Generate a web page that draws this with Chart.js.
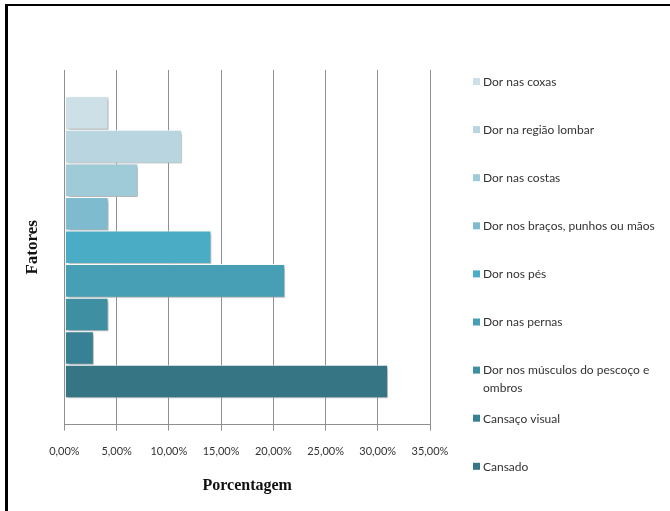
<!DOCTYPE html>
<html>
<head>
<meta charset="utf-8">
<script src="https://cdn.jsdelivr.net/npm/chart.js@4.4.1/dist/chart.umd.min.js"></script>
<style>
  body { margin: 0; background: #fff; }
  #wrap { position: relative; width: 670px; height: 511px; overflow: hidden; }
  #frame { position: absolute; left: 5px; top: 4px; width: 700px; height: 600px;
           border-top: 2px solid #000; border-left: 3px solid #000; pointer-events: none; }
</style>
</head>
<body>
<div id="wrap">
  <canvas id="chart1" width="670" height="511"></canvas>
  <div id="frame"></div>
</div>
<script>
// fatores, de cima para baixo
const fatores = ['Dor nas coxas', 'Dor na região lombar', 'Dor nas costas',
  'Dor nos braços, punhos ou mãos', 'Dor nos pés', 'Dor nas pernas',
  'Dor nos músculos do pescoço e ombros', 'Cansaço visual', 'Cansado'];
const porcentagens = [4.23, 11.27, 7.04, 4.23, 14.08, 21.13, 4.23, 2.82, 30.99];
const cores = ['#cde0e7', '#b9d6e0', '#9fcad8', '#7fbbce', '#4badc5',
  '#479fb5', '#3f8fa3', '#388194', '#357584'];
const xMax = 35;
const xStep = 5;

const gridcolor = '#8f8f8f';
const txtcolor = '#333333';

const datasets = fatores.map((f, i) => ({
  label: f,
  data: [porcentagens[i]],
  backgroundColor: cores[i],
  borderColor: 'rgba(255,255,255,0.9)',
  borderWidth: 1,
  borderSkipped: false,
  categoryPercentage: 0.852,
  barPercentage: 1
}));

// sombra das barras (efeito do Excel)
const barShadow = {
  id: 'barShadow',
  beforeDatasetsDraw(chart) {
    const c = chart.ctx;
    c.save();
    c.shadowColor = 'rgba(0,0,0,0.35)';
    c.shadowBlur = 3;
    c.shadowOffsetX = 2;
    c.shadowOffsetY = 2;
  },
  afterDatasetsDraw(chart) {
    chart.ctx.restore();
  }
};

// legenda à direita, espaçamento fixo como no original
const sideLegend = {
  id: 'sideLegend',
  afterDraw(chart) {
    const c = chart.ctx;
    const x0 = 473, y0 = 82, gap = 48.1, maxW = 186;
    c.save();
    c.font = '12px Lato';
    c.textBaseline = 'middle';
    chart.data.datasets.forEach((ds, i) => {
      const y = y0 + i * gap;
      c.fillStyle = ds.backgroundColor;
      c.fillRect(x0, y - 4, 7, 7);
      c.fillStyle = txtcolor;
      // quebra de linha simples
      const words = ds.label.split(' ');
      let line = '', lines = [];
      words.forEach(w => {
        const test = line ? line + ' ' + w : w;
        if (c.measureText(test).width > maxW && line) { lines.push(line); line = w; }
        else line = test;
      });
      lines.push(line);
      lines.forEach((l, k) => c.fillText(l, x0 + 10, y + k * 18));
    });
    c.restore();
  }
};

const ctx = document.getElementById('chart1');
new Chart(ctx, {
  type: 'bar',
  data: { labels: [''], datasets: datasets },
  plugins: [barShadow, sideLegend],
  options: {
    indexAxis: 'y',
    responsive: false,
    animation: false,
    layout: { padding: { top: 70, right: 240, bottom: 16, left: 20 } },
    plugins: {
      legend: { display: false },
      tooltip: { enabled: false }
    },
    scales: {
      x: {
        min: 0,
        max: xMax,
        ticks: {
          stepSize: xStep,
          padding: 14,
          color: txtcolor,
          font: { family: 'Lato', size: 11 },
          callback: v => v.toFixed(2).replace('.', ',') + '%'
        },
        grid: { color: gridcolor, tickLength: 6, tickColor: gridcolor },
        border: { color: gridcolor },
        title: {
          display: true,
          text: 'Porcentagem',
          color: '#111',
          font: { family: 'Liberation Serif', size: 16, weight: 'bold' },
          padding: { top: 4, bottom: 0 }
        }
      },
      y: {
        ticks: { display: false },
        grid: { display: false, drawTicks: false },
        border: { display: false },
        title: {
          display: true,
          text: 'Fatores',
          color: '#111',
          font: { family: 'Liberation Serif', size: 17, weight: 'bold' },
          padding: { top: 2, bottom: 22 }
        }
      }
    }
  }
});
</script>
</body>
</html>
